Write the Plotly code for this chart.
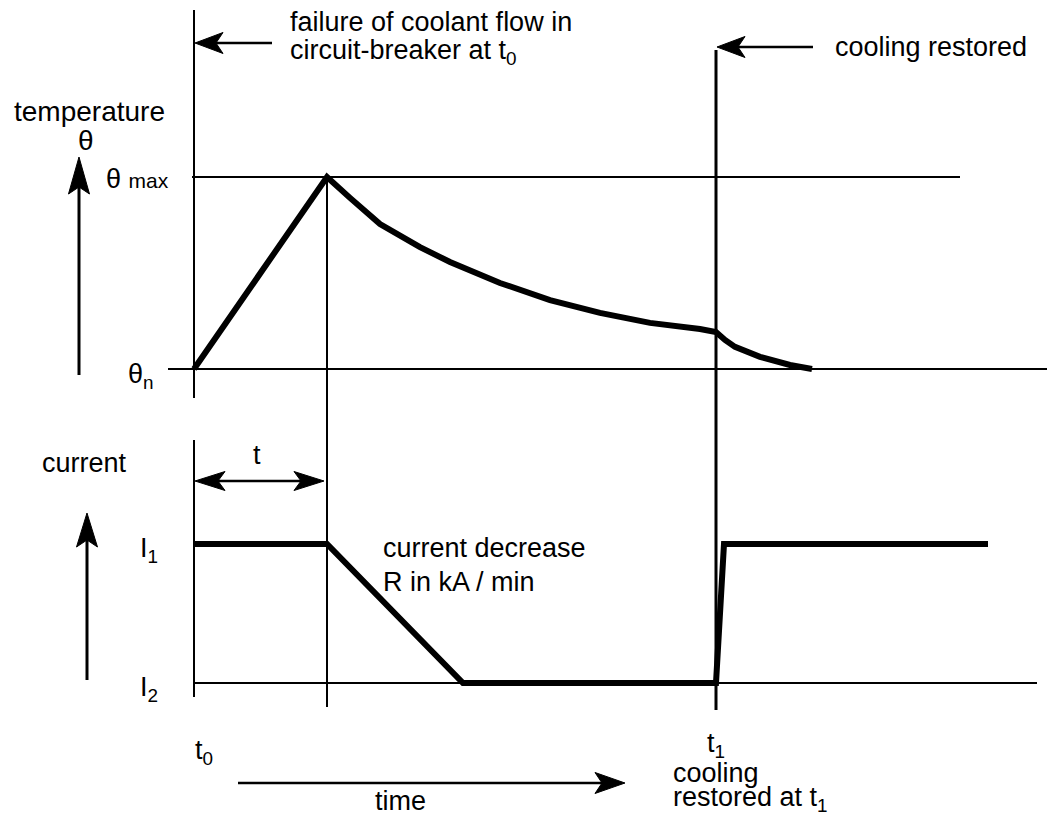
import plotly.graph_objects as go

# page is 1055x816; the browser body has an 8px margin, so the figure is drawn from (8, 8)
PAGE_W, PAGE_H, OFF = 1055, 816, 8
W, H = PAGE_W - OFF, PAGE_H - OFF

# ---------------- data (time in arbitrary units, t0 = 0) ----------------
temp_time = [0, 133, 156, 186, 226, 256, 306, 356, 406, 456, 506, 522, 531, 541, 566, 596, 618]
temp_theta = [0, 1, 0.891, 0.755, 0.635, 0.557, 0.448, 0.359, 0.292, 0.240, 0.208, 0.193,
              0.151, 0.115, 0.063, 0.021, 0]   # 0 = theta_n, 1 = theta_max
current_time = [0, 133, 269, 522, 530, 794]
current_level = [1, 1, 0, 0, 1, 1]              # 1 = I1, 0 = I2
t_fail, t_tau, t_restore = 0, 133, 522

FONT = "Liberation Sans, Arial, Helvetica, sans-serif"
FS = 27

# axis ranges so that the diagram fills the page
x_range = [-186, 861]
y_temp_range = [-2.328, 1.880]
y_cur_range = [-0.957, 4.856]

def P(xp, yp):
    """page pixel -> paper fraction"""
    return (xp - OFF) / W, 1 - (yp - OFF) / H

fig = go.Figure()

# thick curves
fig.add_trace(go.Scatter(x=temp_time, y=temp_theta, mode="lines", yaxis="y",
                         line=dict(color="black", width=6), hoverinfo="skip"))
fig.add_trace(go.Scatter(x=current_time, y=current_level, mode="lines", yaxis="y2",
                         line=dict(color="black", width=6), hoverinfo="skip"))

shapes = []
def seg(x0, y0, x1, y1, yref="y", w=2):
    shapes.append(dict(type="line", xref="x", yref=yref, x0=x0, y0=y0, x1=x1, y1=y1,
                       line=dict(color="black", width=w), layer="below"))

# temperature panel guide lines
seg(-2, 1, 766, 1)                 # theta_max
seg(-26, 0, 861, 0)                # theta_n
seg(t_fail, 1.87, t_fail, -0.151)  # t0 vertical
seg(t_tau, 1, t_tau, -1.76)        # end of t
seg(t_restore, 1.661, t_restore, -1.776, w=3)  # t1
# current panel guide lines
seg(t_fail, 1.748, t_fail, -0.101, yref="y2")
seg(t_fail, 0, 843, 0, yref="y2")

def pline(x0, y0, x1, y1, w=2):
    a, b = P(x0, y0)
    c, d = P(x1, y1)
    shapes.append(dict(type="line", xref="paper", yref="paper", x0=a, y0=b, x1=c, y1=d,
                       line=dict(color="black", width=w)))

def head(tx, ty, dx, dy, L=28, hw=10, notch=7):
    # notched arrow head, tip at (tx, ty), pointing in direction (dx, dy)
    nx, ny = -dy, dx
    pts = [(tx, ty),
           (tx - L * dx + hw * nx, ty - L * dy + hw * ny),
           (tx - (L - notch) * dx, ty - (L - notch) * dy),
           (tx - L * dx - hw * nx, ty - L * dy - hw * ny)]
    pp = [P(x, y) for x, y in pts]
    path = "M" + " L".join(f"{x:.5f},{y:.5f}" for x, y in pp) + " Z"
    shapes.append(dict(type="path", xref="paper", yref="paper", path=path,
                       fillcolor="black", line=dict(color="black", width=1)))

def arrow(tail, tip, w=2, L=28, hw=10, both=False):
    (x0, y0), (x1, y1) = tail, tip
    ln = ((x1 - x0) ** 2 + (y1 - y0) ** 2) ** 0.5
    dx, dy = (x1 - x0) / ln, (y1 - y0) / ln
    pline(x0 + (dx * (L - 8) if both else 0), y0 + (dy * (L - 8) if both else 0),
          x1 - dx * (L - 8), y1 - dy * (L - 8), w=w)
    head(x1, y1, dx, dy, L=L, hw=hw)
    if both:
        head(x0, y0, -dx, -dy, L=L, hw=hw)

arrow((272, 43), (195, 43), w=2.5, hw=10.5)
arrow((813, 47), (717, 47), w=2.5, hw=10.5)
arrow((79, 375), (79, 157), w=3, L=37, hw=10.5)
arrow((87, 680), (87, 513), w=3, L=34, hw=10.5)
arrow((238, 783), (625, 783), w=2.5, L=30, hw=10.5)
arrow((195, 481), (324, 481), w=2.5, L=30, hw=9.5, both=True)

ann = []
def text(xp, yp, s, size=FS, xanchor="center", yanchor="middle"):
    x, y = P(xp, yp)
    ann.append(dict(x=x, y=y, xref="paper", yref="paper", text=s, showarrow=False,
                    xanchor=xanchor, yanchor=yanchor,
                    font=dict(family=FONT, size=size, color="black")))

# texts
text(288, 22, "failure of coolant flow in", xanchor="left")
text(288, 52, "circuit-breaker at t<sub>0</sub>", xanchor="left")
text(833, 47, "cooling restored", xanchor="left")
text(89, 111, "temperature", size=28)
text(86, 140, "θ", size=28)
text(171, 179, "θ <span style='font-size:21px'>max</span>", xanchor="right")
text(156, 376, "θ<sub>n</sub>", xanchor="right")
text(84, 463, "current")
text(257, 455, "t")
text(160, 550, "I<sub>1</sub>", xanchor="right")
text(160, 689, "I<sub>2</sub>", xanchor="right")
text(381, 548, "current decrease", xanchor="left")
text(381, 582, "R in kA / min", xanchor="left")
text(204, 752, "t<sub>0</sub>")
text(716, 745, "t<sub>1</sub>")
text(671, 773, "cooling", xanchor="left")
text(671, 799, "restored at t<sub>1</sub>", xanchor="left")
text(400, 801, "time")

fig.update_layout(
    width=W, height=H, autosize=False,
    margin=dict(l=0, r=0, t=0, b=0),
    paper_bgcolor="white", plot_bgcolor="white",
    showlegend=False,
    xaxis=dict(range=x_range, visible=False, fixedrange=True),
    yaxis=dict(range=y_temp_range, visible=False, domain=[0, 1]),
    yaxis2=dict(range=y_cur_range, visible=False, overlaying="y"),
    shapes=shapes, annotations=ann,
    font=dict(family=FONT, color="black"),
)

fig.write_html("out.html")
